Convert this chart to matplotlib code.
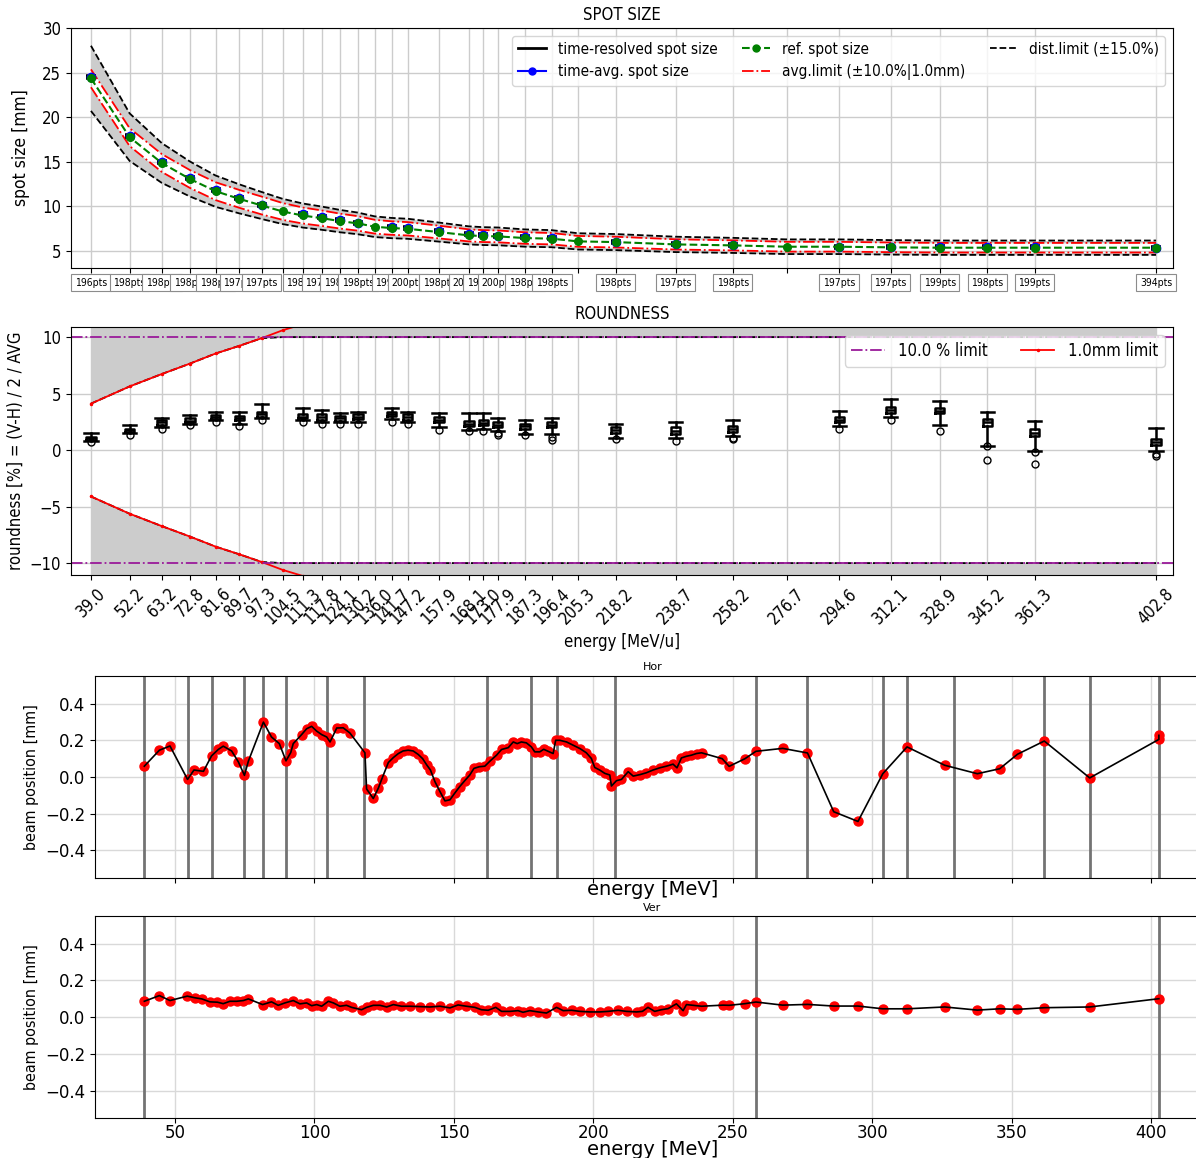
import matplotlib
matplotlib.use("Agg")
import matplotlib.pyplot as plt
from matplotlib.lines import Line2D
import numpy as np

plt.rcParams['font.family'] = ['DejaVu Sans']

# beam energies [MeV/u] and number of points recorded per energy ('' = not measured)
energies = [39.0, 52.2, 63.2, 72.8, 81.6, 89.7, 97.3, 104.5, 111.3, 117.8, 124.1, 130.2,
            136.0, 141.7, 147.2, 157.9, 168.1, 173.0, 177.9, 187.3, 196.4, 205.3, 218.2,
            238.7, 258.2, 276.7, 294.6, 312.1, 328.9, 345.2, 361.3, 402.8]
pts_labels = ['196pts', '198pts', '198pts', '198pts', '198pts', '197pts', '197pts', '',
              '198pts', '197pts', '198pts', '198pts', '', '199pts', '200pts', '198pts',
              '200pts', '199pts', '200pts', '198pts', '198pts', '', '198pts', '197pts',
              '198pts', '', '197pts', '197pts', '199pts', '198pts', '199pts', '394pts']

# reference spot size [mm] at every energy
ref_spot = [24.35, 17.76, 14.86, 13.07, 11.70, 10.84, 10.10, 9.43, 8.98, 8.68, 8.35, 8.09,
            7.72, 7.57, 7.49, 7.12, 6.75, 6.67, 6.64, 6.45, 6.38, 6.08, 6.00, 5.74, 5.63,
            5.48, 5.48, 5.41, 5.37, 5.37, 5.37, 5.37]
# measured (time averaged) spot size [mm] at measured energies
avg_spot = [24.5, 17.9, 14.95, 13.15, 11.8, 10.95, 10.2, 9.1, 8.8, 8.45, 8.15, 7.65, 7.55,
            7.2, 6.85, 6.75, 6.7, 6.55, 6.45, 6.05, 5.8, 5.65, 5.5, 5.45, 5.4, 5.4, 5.4, 5.35]

# roundness statistics per measured energy [%]
rnd_med = [1.05, 1.75, 2.45, 2.6, 2.9, 2.85, 3.15, 2.95, 2.9, 2.8, 2.95, 3.2, 2.9, 2.65,
           2.35, 2.4, 2.2, 2.1, 2.2, 1.75, 1.7, 1.85, 2.65, 3.55, 3.5, 2.45, 1.55, 0.7]
rnd_q1 = [0.9, 1.6, 2.25, 2.45, 2.75, 2.7, 2.95, 2.8, 2.7, 2.6, 2.75, 3.0, 2.7, 2.45,
          2.15, 2.2, 2.0, 1.9, 2.0, 1.55, 1.45, 1.6, 2.45, 3.3, 3.25, 2.15, 1.25, 0.45]
rnd_q3 = [1.2, 1.9, 2.65, 2.8, 3.1, 3.05, 3.35, 3.15, 3.15, 3.0, 3.15, 3.35, 3.15, 2.95,
          2.6, 2.65, 2.45, 2.35, 2.45, 2.0, 2.0, 2.15, 2.9, 3.8, 3.75, 2.75, 1.85, 0.95]
rnd_lo = [0.8, 1.5, 2.05, 2.3, 2.65, 2.35, 2.8, 2.7, 2.45, 2.45, 2.45, 2.75, 2.5, 2.0,
          1.75, 1.9, 1.7, 1.45, 1.45, 1.1, 1.1, 1.25, 2.1, 2.9, 2.25, 0.4, -0.1, -0.1]
rnd_hi = [1.55, 2.25, 2.8, 3.1, 3.4, 3.4, 4.05, 3.7, 3.55, 3.3, 3.4, 3.7, 3.4, 3.25,
          3.3, 3.3, 2.8, 2.7, 2.8, 2.3, 2.45, 2.65, 3.45, 4.55, 4.35, 3.4, 2.55, 1.95]
rnd_fliers = [[0.7], [1.35], [1.9], [2.2], [2.45], [2.15], [2.7], [2.5], [2.35], [2.35],
              [2.35], [2.45], [2.35], [1.75], [1.65], [1.7], [1.5, 1.35], [1.3], [1.15, 0.85],
              [0.95], [0.8], [1.1, 0.95], [1.9], [2.65], [1.7], [0.35, -0.85],
              [-0.15, -1.25], [-0.35, -0.55]]

# beam position scans [mm] vs energy [MeV]
hor_e = [39.0, 44.4, 48.2, 54.5, 56.8, 60.2, 63.1, 65.5, 67.3, 70.3, 72.7, 74.9, 76.3, 81.7,
         84.6, 87.4, 89.8, 91.5, 92.4, 95.4, 97.2, 99.0, 100.8, 102.6, 104.4, 105.6, 108.0,
         110.3, 112.7, 118.1, 118.7, 121.1, 122.9, 124.1, 126.5, 128.3, 130.1, 131.8, 133.6,
         135.4, 137.2, 138.8, 140.3, 141.6, 143.2, 145.0, 146.8, 148.6, 150.3, 152.1, 153.9,
         155.7, 157.2, 159.1, 161.1, 162.9, 165.3, 167.1, 169.5, 171.3, 172.7, 174.2, 176.0,
         177.8, 179.0, 180.8, 182.2, 183.8, 185.6, 186.5, 188.0, 190.4, 192.8, 195.2, 197.5,
         199.3, 200.5, 202.3, 204.1, 205.9, 206.5, 208.3, 210.1, 212.5, 214.3, 216.7, 219.0,
         221.4, 223.8, 226.2, 228.6, 230.0, 231.6, 233.4, 235.2, 237.0, 238.8, 246.2, 248.7,
         254.4, 258.3, 267.9, 276.8, 286.2, 294.9, 303.8, 312.5, 326.0, 337.7, 345.7, 352.1,
         361.7, 378.0, 402.8, 402.8]
hor_pos = [0.059, 0.146, 0.169, -0.013, 0.038, 0.031, 0.115, 0.15, 0.168, 0.142, 0.083,
           0.009, 0.086, 0.299, 0.218, 0.182, 0.088, 0.133, 0.182, 0.231, 0.263, 0.276, 0.25,
           0.231, 0.218, 0.191, 0.267, 0.268, 0.24, 0.132, -0.065, -0.117, -0.061, -0.013,
           0.079, 0.106, 0.128, 0.142, 0.146, 0.142, 0.123, 0.1, 0.065, 0.038, -0.025, -0.079,
           -0.13, -0.124, -0.088, -0.052, -0.02, 0.011, 0.047, 0.056, 0.059, 0.086, 0.119,
           0.15, 0.16, 0.191, 0.182, 0.191, 0.186, 0.164, 0.137, 0.137, 0.151, 0.14, 0.128,
           0.2, 0.2, 0.191, 0.173, 0.155, 0.132, 0.101, 0.052, 0.038, 0.02, 0.011, -0.049,
           -0.02, -0.013, 0.029, 0.005, 0.013, 0.023, 0.038, 0.05, 0.059, 0.07, 0.05, 0.104,
           0.113, 0.119, 0.128, 0.132, 0.1, 0.058, 0.1, 0.14, 0.156, 0.131, -0.189, -0.242,
           0.018, 0.164, 0.064, 0.018, 0.045, 0.124, 0.196, -0.005, 0.205, 0.227]
hor_marks = [39.0, 54.5, 63.1, 74.8, 81.7, 89.8, 104.4, 117.9, 161.7, 177.8, 186.8, 207.7,
             258.2, 276.8, 303.8, 312.5, 329.2, 361.7, 378.0, 402.8]

ver_e = [39.0, 44.4, 48.2, 54.4, 57.2, 59.6, 62.5, 65.2, 67.3, 69.7, 72.1, 74.5, 76.3, 81.4,
         84.6, 87.0, 89.4, 92.4, 94.8, 97.2, 99.0, 100.8, 102.6, 105.0, 106.8, 109.1, 111.5,
         113.3, 116.9, 118.7, 121.1, 123.5, 125.9, 128.3, 131.2, 134.2, 137.8, 141.4, 145.0,
         148.6, 151.5, 154.5, 157.5, 159.9, 162.3, 165.0, 167.1, 170.1, 173.0, 174.8, 177.2,
         180.2, 183.2, 186.8, 189.2, 192.2, 195.2, 198.7, 202.3, 205.3, 208.9, 211.9, 215.5,
         217.6, 219.6, 222.0, 224.4, 226.8, 229.8, 232.2, 233.4, 235.8, 238.8, 246.5, 248.7,
         254.4, 258.3, 267.9, 276.8, 286.2, 294.9, 303.8, 312.5, 326.0, 337.7, 345.7, 352.1,
         361.7, 378.0, 402.8]
ver_pos = [0.086, 0.117, 0.09, 0.114, 0.105, 0.099, 0.083, 0.081, 0.073, 0.086, 0.086, 0.09,
           0.099, 0.068, 0.083, 0.064, 0.077, 0.09, 0.072, 0.077, 0.062, 0.068, 0.059, 0.086,
           0.077, 0.059, 0.064, 0.053, 0.04, 0.053, 0.064, 0.064, 0.055, 0.068, 0.059, 0.059,
           0.057, 0.055, 0.059, 0.05, 0.066, 0.059, 0.053, 0.04, 0.037, 0.053, 0.031, 0.031,
           0.035, 0.026, 0.035, 0.028, 0.022, 0.053, 0.035, 0.037, 0.031, 0.028, 0.028, 0.031,
           0.037, 0.031, 0.028, 0.031, 0.053, 0.031, 0.04, 0.046, 0.072, 0.035, 0.068, 0.064,
           0.059, 0.065, 0.064, 0.073, 0.082, 0.065, 0.069, 0.06, 0.06, 0.045, 0.045, 0.055,
           0.038, 0.045, 0.042, 0.051, 0.055, 0.1]
ver_marks = [39.0, 258.2, 402.8]

E = np.array(energies)
ref = np.array(ref_spot)
measured = np.array([e for e, p in zip(energies, pts_labels) if p])
avg = np.array(avg_spot)

NARROW = 'condensed'

fig = plt.figure(figsize=(11.96, 11.58), dpi=100)

# ---------------- spot size ----------------
ax1 = fig.add_axes([0.0594, 0.7686, 0.9214, 0.2073])
dist_hi, dist_lo = ref * 1.15, ref * 0.85
band = np.minimum(0.10 * ref, 1.0)
avg_hi, avg_lo = ref + band, ref - band
ax1.fill_between(E, avg_hi, dist_hi, color='0.8', lw=0)
ax1.fill_between(E, dist_lo, avg_lo, color='0.8', lw=0)
ax1.plot(E, dist_hi, 'k--', lw=1.3)
ax1.plot(E, dist_lo, 'k--', lw=1.3)
ax1.plot(E, avg_hi, color='red', ls='-.', lw=1.3)
ax1.plot(E, avg_lo, color='red', ls='-.', lw=1.3)
ax1.hlines(avg, measured - 1.7, measured + 1.7, color='k', lw=4, zorder=3)
ax1.plot(measured, avg, 'o', color='blue', ms=6, zorder=4)
ax1.plot(E, ref, '--o', color='green', ms=5.5, lw=1.5, zorder=5)
ax1.set_xlim(32.2, 408.6)
ax1.set_ylim(3.1, 30)
ax1.set_yticks([5, 10, 15, 20, 25, 30])
ax1.set_xticks(E)
ax1.set_xticklabels(pts_labels, fontsize=7.5,
                    bbox=dict(boxstyle='square,pad=0.35', fc='white', ec='0.55', lw=0.8))
ax1.tick_params(axis='y', labelsize=12)
ax1.grid(True, color='0.8', lw=1)
ax1.set_ylabel('spot size [mm]', fontsize=12.5, fontstretch=NARROW, labelpad=9)
ax1.set_title('SPOT SIZE', fontsize=12, fontstretch=NARROW)
handles = [Line2D([], [], color='k', lw=2),
           Line2D([], [], color='blue', marker='o', ms=5),
           Line2D([], [], color='green', ls='--', marker='o', ms=5),
           Line2D([], [], color='red', ls='-.', lw=1.3),
           Line2D([], [], color='k', ls='--', lw=1.3)]
labels = ['time-resolved spot size', 'time-avg. spot size', 'ref. spot size',
          'avg.limit (\u00b110.0%|1.0mm)', 'dist.limit (\u00b115.0%)']
ax1.legend(handles, labels, ncol=3, loc='upper right', columnspacing=1.6,
           handlelength=1.8, prop=dict(size=11, stretch=NARROW))

# ---------------- roundness ----------------
ax2 = fig.add_axes([0.0594, 0.5035, 0.9214, 0.2142])
mm_lim = 100.0 * 1.0 / ref
pct_lim = np.minimum(mm_lim, 10.0)
ax2.fill_between(E, pct_lim, 30, color='0.8', lw=0)
ax2.fill_between(E, -30, -pct_lim, color='0.8', lw=0)
ax2.plot(E, pct_lim, 'k--', lw=1.3)
ax2.plot(E, -pct_lim, 'k--', lw=1.3)
ax2.plot(E, mm_lim, color='red', marker='.', ms=3, lw=1.3)
ax2.plot(E, -mm_lim, color='red', marker='.', ms=3, lw=1.3)
ax2.axhline(10, color='#9a1a9a', ls='-.', lw=1.3)
ax2.axhline(-10, color='#9a1a9a', ls='-.', lw=1.3)
stats = [dict(med=m, q1=a, q3=b, whislo=lo, whishi=hi, fliers=fl)
         for m, a, b, lo, hi, fl in zip(rnd_med, rnd_q1, rnd_q3, rnd_lo, rnd_hi, rnd_fliers)]
ax2.bxp(stats, positions=measured, widths=3.2, capwidths=4.5, manage_ticks=False,
        boxprops=dict(color='k', lw=1.8), whiskerprops=dict(color='k', lw=1.8),
        capprops=dict(color='k', lw=1.8), medianprops=dict(color='k', lw=1.8),
        flierprops=dict(marker='o', mfc='none', mec='k', ms=5, mew=1))
ax2.set_xlim(32.2, 408.6)
ax2.set_ylim(-11.05, 10.9)
ax2.set_yticks([-10, -5, 0, 5, 10])
ax2.set_xticks(E)
ax2.set_xticklabels([f'{e:.1f}' for e in energies], rotation=45, fontsize=12)
ax2.tick_params(axis='y', labelsize=12)
ax2.grid(True, color='0.8', lw=1)
ax2.set_xlabel('energy [MeV/u]', fontsize=12, fontstretch=NARROW)
ax2.set_ylabel('roundness [%] = (V-H) / 2 / AVG', fontsize=12, fontstretch=NARROW)
ax2.set_title('ROUNDNESS', fontsize=12, fontstretch=NARROW)
rh = [Line2D([], [], color='#9a1a9a', ls='-.', lw=1.3),
      Line2D([], [], color='red', marker='.', ms=3, lw=1.3)]
ax2.legend(rh, ['10.0 % limit', '1.0mm limit'], ncol=2, loc='upper right',
           prop=dict(size=12, stretch=NARROW))

for ax in (ax1, ax2):
    for t in ax.get_xticklabels() + ax.get_yticklabels():
        t.set_fontstretch(NARROW)

# ---------------- beam position ----------------
for bottom, title, xs, ys, marks, show_x in [
        (0.2418, 'Hor', hor_e, hor_pos, hor_marks, False),
        (0.0345, 'Ver', ver_e, ver_pos, ver_marks, True)]:
    ax = fig.add_axes([0.0794, bottom, 0.932, 0.1744])
    for m in marks:
        ax.axvline(m, color='0.45', lw=2)
    ax.plot(xs, ys, 'o', color='red', ms=6.5, zorder=3)
    ax.plot(xs, ys, '-', color='k', lw=1.2, zorder=4)
    ax.set_xlim(21.3, 421.0)
    ax.set_ylim(-0.55, 0.55)
    ax.set_xticks([50, 100, 150, 200, 250, 300, 350, 400])
    ax.set_yticks([-0.4, -0.2, 0.0, 0.2, 0.4])
    ax.tick_params(labelsize=12, labelbottom=show_x)
    ax.tick_params(axis='x', pad=1)
    ax.grid(True, color='0.85', lw=1)
    ax.set_title(title, fontsize=8, pad=4)
    ax.set_xlabel('energy [MeV]', fontsize=14, labelpad=-2)
    ax.set_ylabel('beam position [mm]', fontsize=11.5, fontstretch=NARROW)

fig.savefig('out.png', dpi=100)
